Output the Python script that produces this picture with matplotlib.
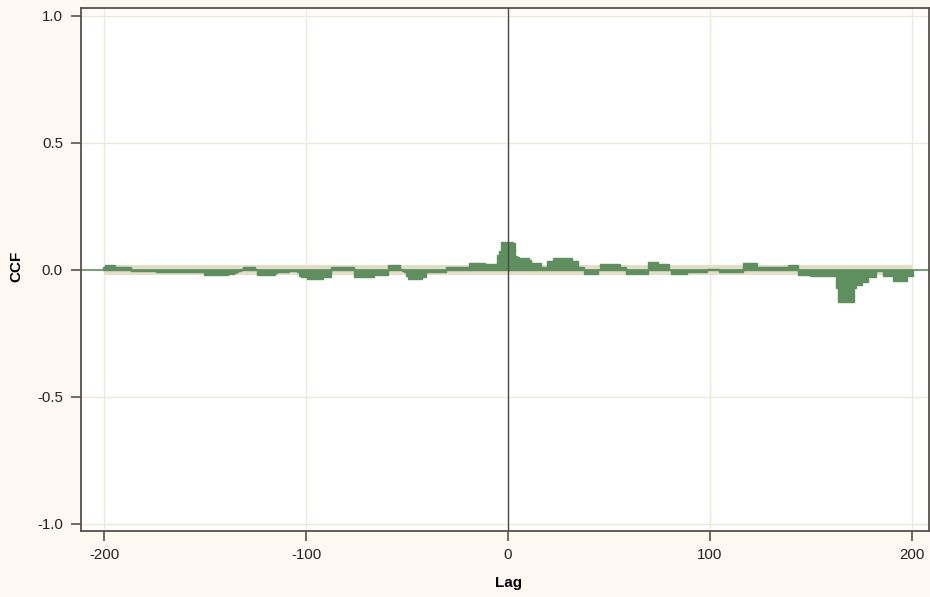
import numpy as np
import matplotlib
matplotlib.use('Agg')
import matplotlib.pyplot as plt

plt.rcParams['font.family'] = ['Liberation Sans', 'DejaVu Sans']

# cross-correlation, lags -200..200
lags = np.arange(-200, 201)
ccf = [
    0.012, 0.02, 0.02, 0.02, 0.02, 0.02, 0.012, 0.012, 0.012, 0.012,          # -200
    0.012, 0.012, 0.012, 0.01, -0.005, -0.005, -0.005, -0.005, -0.005, -0.005,  # -190
    -0.005, -0.005, -0.005, -0.005, -0.005, -0.005, -0.01, -0.01, -0.01, -0.01,  # -180
    -0.01, -0.01, -0.01, -0.01, -0.01, -0.01, -0.01, -0.01, -0.01, -0.008,      # -170
    -0.008, -0.008, -0.008, -0.008, -0.008, -0.008, -0.008, -0.008, -0.008, -0.008,  # -160
    -0.022, -0.022, -0.022, -0.022, -0.022, -0.022, -0.022, -0.022, -0.022, -0.022,  # -150
    -0.022, -0.022, -0.018, -0.015, -0.015, -0.012, -0.01, -0.005, 0.005, 0.012,     # -140
    0.012, 0.012, 0.012, 0.012, 0.01, 0.005, -0.02, -0.02, -0.02, -0.02,            # -130
    -0.02, -0.02, -0.02, -0.02, -0.02, -0.012, -0.01, -0.01, -0.01, -0.01,          # -120
    -0.008, -0.008, -0.006, -0.006, -0.005, -0.005, -0.01, -0.025, -0.03, -0.03,    # -110
    -0.03, -0.035, -0.035, -0.035, -0.035, -0.035, -0.035, -0.035, -0.035, -0.028,  # -100
    -0.028, -0.028, -0.028, 0.012, 0.012, 0.012, 0.012, 0.012, 0.012, 0.012,       # -90
    0.012, 0.012, 0.012, 0.012, -0.028, -0.028, -0.028, -0.028, -0.028, -0.028,    # -80
    -0.028, -0.028, -0.028, -0.028, -0.02, -0.02, -0.02, -0.02, -0.02, -0.02,      # -70
    -0.02, 0.02, 0.02, 0.02, 0.02, 0.02, 0.02, 0.005, -0.005, -0.01,               # -60
    -0.025, -0.035, -0.035, -0.035, -0.035, -0.035, -0.035, -0.035, -0.03, -0.028, # -50
    -0.008, -0.008, -0.008, -0.008, -0.008, -0.008, -0.008, -0.008, -0.008, -0.008,  # -40
    0.01, 0.01, 0.01, 0.01, 0.01, 0.01, 0.013, 0.013, 0.013, 0.013,               # -30
    0.013, 0.026, 0.026, 0.026, 0.026, 0.026, 0.026, 0.026, 0.026, 0.022,         # -20
    0.022, 0.022, 0.022, 0.022, 0.022, 0.06, 0.075, 0.11, 0.11, 0.11,             # -10
    0.11, 0.11, 0.11, 0.105, 0.055, 0.05, 0.045, 0.045, 0.045, 0.045,             # 0
    0.045, 0.04, 0.026, 0.026, 0.026, 0.026, 0.026, 0.013, 0.013, 0.013,          # 10
    0.033, 0.033, 0.033, 0.045, 0.045, 0.045, 0.045, 0.045, 0.045, 0.045,         # 20
    0.045, 0.045, 0.033, 0.033, 0.033, 0.013, 0.013, 0.013, -0.017, -0.017,       # 30
    -0.017, -0.017, -0.017, -0.017, -0.017, 0.0, 0.024, 0.024, 0.024, 0.024,      # 40
    0.024, 0.024, 0.024, 0.024, 0.024, 0.024, 0.01, 0.01, 0.01, -0.017,           # 50
    -0.017, -0.017, -0.017, -0.017, -0.017, -0.017, -0.017, -0.017, -0.017, -0.017,  # 60
    0.03, 0.03, 0.03, 0.03, 0.03, 0.024, 0.024, 0.024, 0.024, 0.024,              # 70
    0.0, -0.017, -0.017, -0.017, -0.017, -0.017, -0.017, -0.017, -0.017, -0.01,   # 80
    -0.01, -0.01, -0.01, -0.01, -0.01, -0.01, -0.01, -0.01, -0.01, 0.005,         # 90
    0.005, 0.005, 0.005, 0.005, 0.005, -0.01, -0.01, -0.01, -0.01, -0.01,         # 100
    -0.01, -0.01, -0.01, -0.01, -0.01, -0.01, -0.01, 0.026, 0.026, 0.026,         # 110
    0.026, 0.026, 0.026, 0.026, 0.013, 0.013, 0.013, 0.01, 0.01, 0.01,            # 120
    0.01, 0.01, 0.01, 0.01, 0.01, 0.01, 0.01, 0.01, 0.01, 0.02,                   # 130
    0.02, 0.02, 0.02, 0.02, -0.02, -0.02, -0.02, -0.02, -0.02, -0.02,             # 140
    -0.024, -0.024, -0.024, -0.024, -0.024, -0.024, -0.024, -0.024, -0.024, -0.024,  # 150
    -0.024, -0.024, -0.024, -0.07, -0.128, -0.128, -0.128, -0.128, -0.128, -0.128,   # 160
    -0.128, -0.128, -0.072, -0.06, -0.06, -0.06, -0.046, -0.046, -0.046, -0.03,      # 170
    -0.03, -0.03, -0.03, -0.005, -0.005, -0.005, -0.026, -0.026, -0.026, -0.026,     # 180
    -0.026, -0.042, -0.042, -0.042, -0.042, -0.042, -0.042, -0.042, -0.026, -0.026,  # 190
    -0.026,                                                                          # 200
]
conf_limit = 0.02

x_ticks = [-200, -100, 0, 100, 200]
y_ticks = [-1.0, -0.5, 0.0, 0.5, 1.0]

green = '#5f8f5f'
band = '#e4ddc8'
grid_c = '#ece9dc'
axis_c = '#55514c'

fig = plt.figure(figsize=(9.3, 5.97), dpi=100, facecolor='#fdf9f2')
ax = fig.add_axes([0.0871, 0.1106, 0.9118, 0.876])
ax.set_facecolor('white')

ax.fill_between([lags[0], lags[-1]], -conf_limit, conf_limit, color=band, lw=0, zorder=1)
ax.axhline(0, color=green, lw=1.2, zorder=2)
ax.bar(lags, ccf, width=1.0, color=green, edgecolor=green, linewidth=1.0, zorder=3)
ax.axvline(0, color='#4a4a4a', lw=1.0, zorder=4)

ax.set_xlim(-211.5, 208.5)
ax.set_ylim(-1.028, 1.031)
ax.set_xticks(x_ticks)
ax.set_yticks(y_ticks)
ax.set_xticklabels([str(t) for t in x_ticks])
ax.set_yticklabels(['%.1f' % t for t in y_ticks])
ax.grid(True, color=grid_c, lw=1.0, zorder=0)
ax.set_axisbelow(True)

for s in ax.spines.values():
    s.set_color(axis_c)
    s.set_linewidth(1.3)
ax.tick_params(direction='out', length=7, width=1.2, color=axis_c,
               labelsize=10.8, labelcolor='#222222')
ax.tick_params(axis='x', pad=5)
ax.tick_params(axis='y', pad=6)

ax.set_xlabel('Lag', fontsize=11, fontweight='bold', va='top')
ax.set_ylabel('CCF', fontsize=11, fontweight='bold')
ax.xaxis.set_label_coords(0.5045, -0.086)
ax.yaxis.set_label_coords(-0.0684, 0.505)

fig.savefig('out.png', dpi=100, facecolor=fig.get_facecolor())
